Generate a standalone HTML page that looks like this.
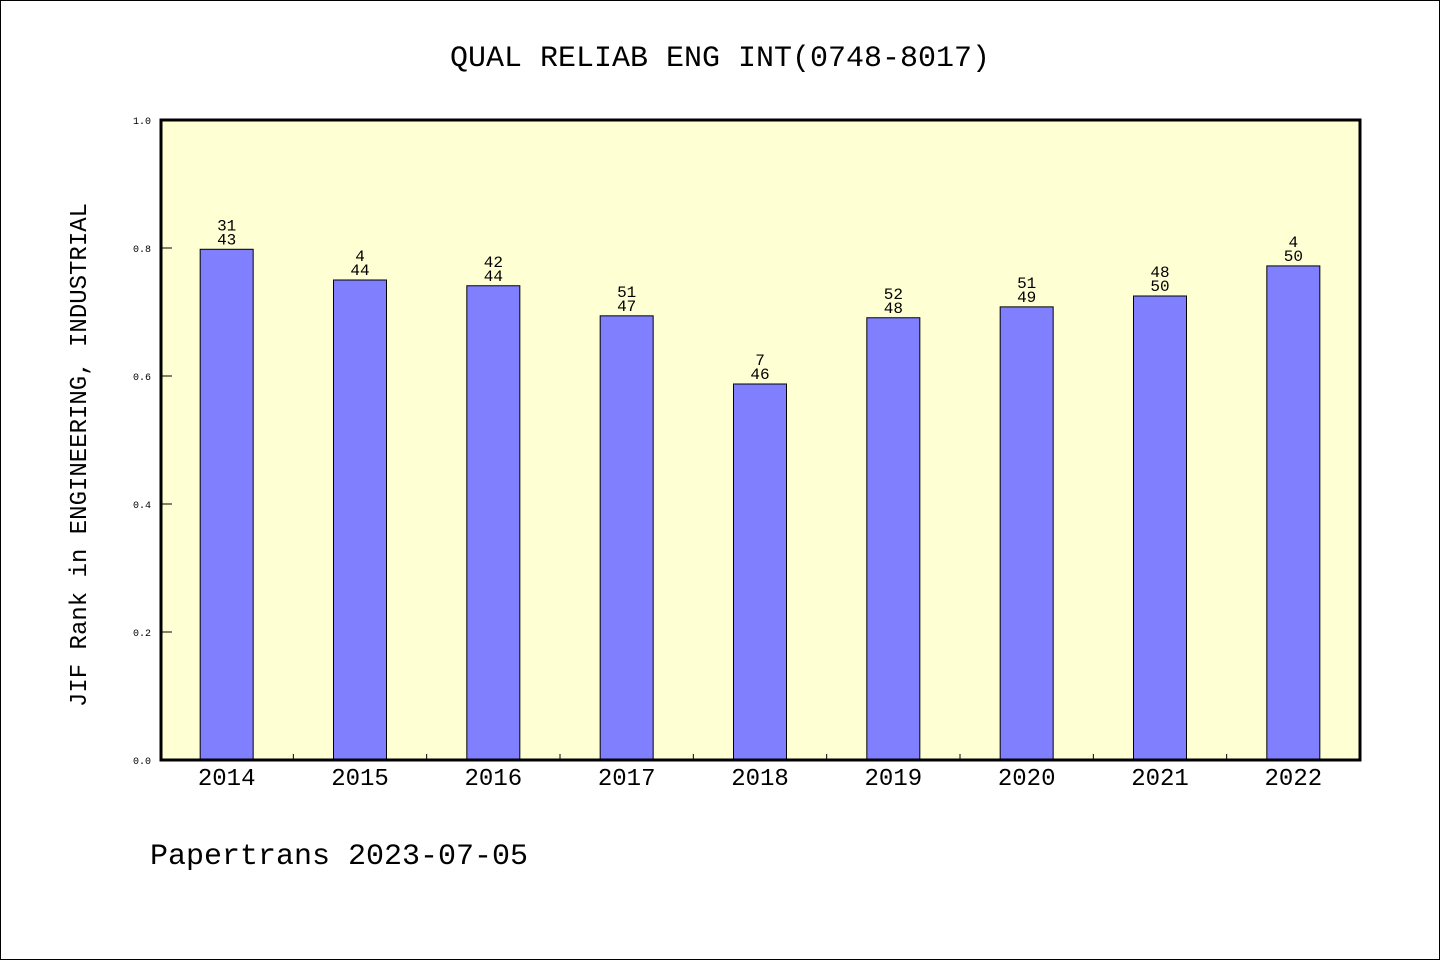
<!DOCTYPE html>
<html><head><meta charset="utf-8"><style>
html,body{margin:0;padding:0;background:#fff}
svg{display:block}
text{font-family:"Liberation Mono","DejaVu Sans Mono",monospace;fill:#000}
</style></head><body>
<svg id="chart" width="1440" height="960" viewBox="0 0 1440 960">
<rect x="0.5" y="0.5" width="1439" height="959" fill="#fff" stroke="#000" stroke-width="1"/>
<text x="720" y="66" font-size="30" text-anchor="middle">QUAL RELIAB ENG INT(0748-8017)</text>
<rect x="161" y="120" width="1199" height="640" fill="#ffffd4"/>
<g id="ticks"></g>
<g id="bars"></g>
<rect x="161" y="120" width="1199" height="640" fill="none" stroke="#000" stroke-width="3"/>
<text transform="translate(86,455) rotate(-90)" font-size="24" text-anchor="middle">JIF Rank in ENGINEERING, INDUSTRIAL</text>
<text x="150" y="864" font-size="30">Papertrans 2023-07-05</text>
</svg>
<script>
const categories=["2014","2015","2016","2017","2018","2019","2020","2021","2022"];
const values=[0.798,0.750,0.741,0.694,0.5875,0.691,0.708,0.725,0.772];
const topLabels=["31","4","42","51","7","52","51","48","4"];
const bottomLabels=["43","44","44","47","46","48","49","50","50"];
const yTicks=[0,0.2,0.4,0.6,0.8,1.0];
const yTickLabels=["0.0","0.2","0.4","0.6","0.8","1.0"];

const NS="http://www.w3.org/2000/svg";
const X0=160,X1=1360,Y0=760,Y1=120;
const slot=(X1-X0)/categories.length;
const xc=i=>X0+slot*(i+0.5);
const y=v=>Y0-(v)*(Y0-Y1);
function mk(tag,attrs,parent,txt){const e=document.createElementNS(NS,tag);for(const k in attrs)e.setAttribute(k,attrs[k]);if(txt!==undefined)e.textContent=txt;parent.appendChild(e);return e;}
const tg=document.getElementById('ticks'),bg=document.getElementById('bars');
yTicks.forEach((t,i)=>{
  const l=mk('line',{x1:X0,x2:X0+12,y1:y(t),y2:y(t),stroke:'#000','stroke-width':1},tg);
  
  
  const tx=mk('text',{x:151,y:y(t)+4,'font-size':10,'text-anchor':'end'},tg,yTickLabels[i]);
  
  
});
for(let i=1;i<categories.length;i++){
  const x=X0+slot*i;
  const l=mk('line',{x1:x,x2:x,y1:Y0,y2:Y0-6,stroke:'#000','stroke-width':1},tg);
  
  
}
const bw=53;
categories.forEach((c,i)=>{
  const top=y(values[i]);
  const r=mk('rect',{x:xc(i)-bw/2,y:top,width:bw,height:Y0-top,fill:'#8080ff',stroke:'#000','stroke-width':1},bg);
  
  
  const t1=mk('text',{x:xc(i),y:top-19,'font-size':16,'text-anchor':'middle'},bg,topLabels[i]);
  
  
  const t2=mk('text',{x:xc(i),y:top-5,'font-size':16,'text-anchor':'middle'},bg,bottomLabels[i]);
  
  
  const xl=mk('text',{x:xc(i),y:785,'font-size':24,'text-anchor':'middle'},bg,c);
  
  
});
</script>
</body></html>
